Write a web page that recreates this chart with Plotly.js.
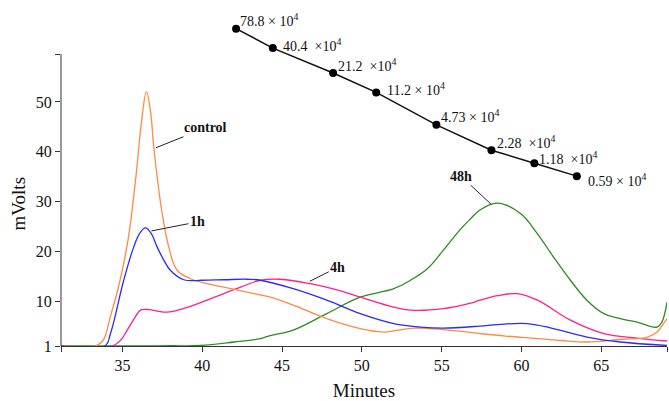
<!DOCTYPE html>
<html>
<head>
<meta charset="utf-8">
<script src="https://cdn.plot.ly/plotly-3.0.1.min.js"></script>
<style>html,body{margin:0;padding:0;background:#fff;}#chart{width:669px;height:401px;}</style>
</head>
<body>
<div id="chart"></div>
<script>
// ---- data ----
const controlTime = [31.15, 33.3, 33.8, 34.25, 34.8, 35.36, 35.81, 36.23, 36.5, 36.75, 36.96, 37.25, 37.49, 37.9, 38.43, 39.26, 40.3, 41.35, 42.8, 44.27, 45.7, 47.8, 49.9, 51.5, 52.3, 53.25, 55.1, 57.4, 59.0, 61.0, 62.5, 64.1, 66.2, 67.9, 68.5, 68.9, 69.12];
const controlMV   = [1, 1, 2.2, 7, 13.5, 22.5, 34, 47, 52, 48.3, 41, 33, 27.6, 20.9, 16.2, 14.5, 13.5, 12.8, 11.8, 10.8, 9.2, 6.5, 4.5, 3.8, 4.2, 4.6, 4.3, 3.5, 3.0, 2.5, 2.1, 1.8, 2.3, 2.8, 3.8, 5.5, 6.5];

const h1Time = [31.15, 33.9, 34.25, 35.08, 35.71, 36.1, 36.44, 36.8, 37.17, 37.6, 38.0, 38.84, 40.0, 41.35, 42.8, 43.65, 45.7, 47.8, 49.9, 52.0, 53.67, 55.1, 57.4, 58.5, 60.36, 62.0, 64.1, 66.2, 69.12];
const h1MV   = [1, 1, 3.5, 14.2, 20.9, 23.7, 24.7, 23.6, 20.9, 18.2, 16.2, 14.3, 14.2, 14.3, 14.4, 14.2, 12.5, 10.2, 7.5, 5.5, 4.8, 4.6, 5.0, 5.3, 5.5, 4.5, 2.8, 1.8, 1.1];

const h4Time = [31.15, 34.35, 34.9, 35.3, 35.8, 36.13, 36.65, 37.2, 37.8, 38.8, 40.3, 42.4, 43.65, 44.9, 46.78, 48.5, 49.9, 52.0, 53.05, 55.1, 56.8, 57.4, 58.5, 59.73, 61.0, 63.07, 65.16, 67.25, 69.12];
const h4MV   = [1, 1, 2.2, 4.2, 6.8, 8.2, 8.3, 8.0, 7.8, 8.5, 10.2, 12.8, 14.2, 14.4, 13.5, 12.2, 10.8, 8.8, 8.2, 8.5, 9.6, 10.2, 11.1, 11.5, 10.2, 6.2, 3.5, 2.6, 2.0];

const h48Time = [31.15, 36, 38, 39.9, 42, 43.65, 44.27, 45.7, 47.8, 49.9, 52.0, 53.05, 54.1, 55.1, 56.2, 56.8, 57.4, 58.48, 59.94, 60.98, 62.0, 63.07, 64.1, 65.16, 66.2, 67.25, 68.5, 68.8, 69.12];
const h48MV   = [1, 1, 1.05, 1.1, 1.8, 2.5, 3.1, 4.2, 7.5, 10.8, 12.5, 14.2, 16.5, 20.2, 24.5, 26.5, 28.3, 29.7, 27.6, 23.6, 18.9, 14.2, 10.2, 7.5, 6.5, 5.8, 4.8, 5.8, 9.8];

// molecular-weight calibration markers (elution time, plotted height)
const calTime  = [42.12, 44.42, 48.20, 50.90, 54.67, 58.12, 60.81, 63.47];
const calPos   = [64.7, 60.8, 55.8, 51.9, 45.4, 40.3, 37.7, 35.1];
const calLabel = ['78.8 × 10<sup>4</sup>', '40.4  ×10<sup>4</sup>', '21.2  ×10<sup>4</sup>', '11.2 × 10<sup>4</sup>', '4.73 × 10<sup>4</sup>', '2.28  ×10<sup>4</sup>', '1.18  ×10<sup>4</sup>', '0.59 × 10<sup>4</sup>'];

const xTickVals = [31.15, 35, 40, 45, 50, 55, 60, 65, 69.12];
const xTickText = ['', '35', '40', '45', '50', '55', '60', '65', ''];
const yTickVals = [1, 10, 20, 30, 40, 50, 59.6];
const yTickText = ['1', '10', '20', '30', '40', '50', ''];

// ---- styling ----
const FONT = 'Liberation Serif, Times New Roman, serif';
const calShift = [[2, 9], [8, 3], [3, 8], [9, 3], [3, 9], [4, 8], [3, 5], [9, -4]];

function curve(x, y, color) {
  return {x: x, y: y, type: 'scatter', mode: 'lines',
          line: {color: color, width: 1.3, shape: 'spline', smoothing: 1.1},
          hoverinfo: 'skip', showlegend: false};
}

const traces = [
  curve(h48Time, h48MV, '#2e8b22'),
  curve(h4Time, h4MV, '#ff1f8c'),
  curve(controlTime, controlMV, '#ff8a45'),
  curve(h1Time, h1MV, '#2a2aff'),
  {x: calTime, y: calPos, type: 'scatter', mode: 'lines+markers',
   line: {color: '#111', width: 1.5}, marker: {color: '#000', size: 8},
   cliponaxis: false, showlegend: false, hoverinfo: 'skip'}
];

const annotations = calTime.map((t, i) => ({
  x: t, y: calPos[i], xref: 'x', yref: 'y', text: calLabel[i], showarrow: false,
  xanchor: 'left', yanchor: 'middle', xshift: calShift[i][0], yshift: calShift[i][1],
  font: {family: FONT, size: 14, color: '#111'}
}));

function pointer(x, y, text, ax, ay) {
  return {x: x, y: y, xref: 'x', yref: 'y', text: '<b>' + text + '</b>', showarrow: true,
          arrowhead: 0, arrowwidth: 1, arrowcolor: '#222', ax: ax, ay: ay, standoff: 0,
          font: {family: FONT, size: 14, color: '#111'}};
}
annotations.push(pointer(37.1, 40.8, 'control', 50, -20));
annotations.push(pointer(36.82, 24.1, '1h', 46, -9));
annotations.push(pointer(46.74, 14.0, '4h', 28, -14));
annotations.push(pointer(58.1, 29.45, '48h', -30, -28));

annotations.push({xref: 'paper', yref: 'paper', x: -0.0705, y: 0.425, text: 'mVolts',
  textangle: -90, showarrow: false, xanchor: 'center', yanchor: 'middle',
  font: {family: FONT, size: 19, color: '#111'}});

const layout = {
  width: 669, height: 401,
  margin: {l: 61, r: 2, t: 10, b: 55},
  paper_bgcolor: '#fff', plot_bgcolor: '#fff',
  font: {family: FONT, size: 16, color: '#111'},
  xaxis: {range: [31.15, 69.12], tickvals: xTickVals, ticktext: xTickText,
          showgrid: false, zeroline: false, showline: true, linecolor: '#333', linewidth: 1,
          ticks: 'outside', ticklen: 5, tickcolor: '#333',
          tickfont: {family: FONT, size: 16, color: '#111'},
          title: {text: 'Minutes', font: {family: FONT, size: 19, color: '#111'}, standoff: 11}},
  yaxis: {range: [1, 68.45], tickvals: yTickVals, ticktext: yTickText,
          showgrid: false, zeroline: false, showline: false,
          ticks: 'outside', ticklen: 5, tickcolor: '#333',
          tickfont: {family: FONT, size: 16, color: '#111'}},
  shapes: [{type: 'line', xref: 'paper', yref: 'y', x0: 0, x1: 0, y0: 1, y1: 59.6,
            line: {color: '#333', width: 1}}],
  annotations: annotations
};

Plotly.newPlot('chart', traces, layout, {displayModeBar: false, staticPlot: true});
</script>
</body>
</html>
